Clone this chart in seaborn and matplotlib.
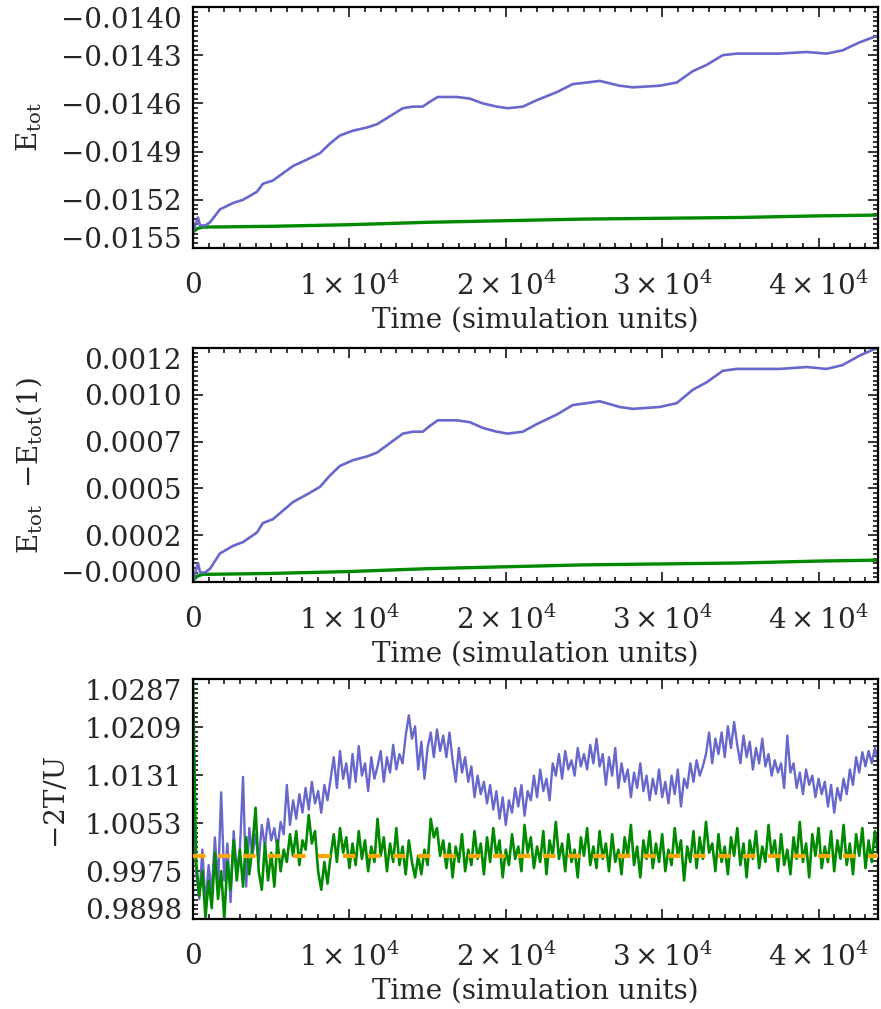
import numpy as np
import pandas as pd
import matplotlib
matplotlib.use("Agg")
import matplotlib.pyplot as plt
import seaborn as sns
from matplotlib.ticker import FixedLocator, FixedFormatter, MultipleLocator, AutoMinorLocator

# ---------------------------------------------------------------- data
# Total energy, live run (blue) and reference run (green)
e_time_blue = [0, 320, 450, 770, 1090, 1720, 2560, 3200, 4090, 4470, 5110, 6390,
               7280, 8120, 8760, 9390, 10220, 11120, 11760, 12590, 13420, 14060,
               14690, 15140, 15650, 16860, 17700, 18530, 19420, 20130, 21090,
               21980, 23260, 24280, 25170, 26010, 27280, 28120, 29840, 30930,
               31950, 32850, 33870, 34760, 35780, 37510, 39230, 40510, 41530,
               42620, 43450, 43800]
e_blue = [-0.01540, -0.01531, -0.01536, -0.01536, -0.01534, -0.01526, -0.01522,
          -0.01520, -0.01515, -0.01510, -0.01508, -0.01499, -0.01495, -0.01491,
          -0.01485, -0.01480, -0.01477, -0.01475, -0.01473, -0.01468, -0.01463,
          -0.01462, -0.01462, -0.01459, -0.01456, -0.01456, -0.01457, -0.01460,
          -0.01462, -0.01463, -0.01462, -0.01458, -0.01453, -0.01448, -0.01447,
          -0.01446, -0.01449, -0.01450, -0.01449, -0.01447, -0.01440, -0.01436,
          -0.01430, -0.01429, -0.01429, -0.01429, -0.01428, -0.01429, -0.01427,
          -0.01422, -0.01419, -0.01418]

e_time_green = [0, 250, 600, 5000, 10000, 15000, 20000, 25000, 30000, 35000, 40000, 43800]
e_green = [-0.015400, -0.015380, -0.015370, -0.015365, -0.015355, -0.015340,
           -0.015330, -0.015320, -0.015315, -0.015310, -0.015300, -0.015295]

# Virial ratio -2T/U sampled every 200 time units
virial_step = 200
virial_blue = [
    1.0100, 0.9975, 0.9930, 1.0010, 0.9920, 0.9985, 0.9940, 1.0030, 0.9950, 1.0103,
    0.9960, 1.0020, 0.9925, 1.0040, 0.9975, 1.0010, 1.0128, 0.9950, 1.0045, 1.0000,
    1.0035, 0.9990, 1.0050, 1.0015, 1.0060, 1.0025, 1.0045, 1.0010, 1.0055, 1.0035,
    1.0115, 1.0050, 1.0090, 1.0060, 1.0100, 1.0070, 1.0110, 1.0075, 1.0120, 1.0085,
    1.0105, 1.0070, 1.0115, 1.0090, 1.0125, 1.0160, 1.0110, 1.0170, 1.0125, 1.0150,
    1.0110, 1.0165, 1.0120, 1.0178, 1.0130, 1.0150, 1.0105, 1.0160, 1.0125, 1.0145,
    1.0170, 1.0120, 1.0160, 1.0135, 1.0180, 1.0140, 1.0165, 1.0150, 1.0195, 1.0228,
    1.0190, 1.0210, 1.0140, 1.0185, 1.0125, 1.0175, 1.0200, 1.0160, 1.0205, 1.0170,
    1.0195, 1.0160, 1.0200, 1.0155, 1.0120, 1.0175, 1.0135, 1.0160, 1.0120, 1.0145,
    1.0095, 1.0130, 1.0100, 1.0120, 1.0085, 1.0115, 1.0075, 1.0105, 1.0060, 1.0095,
    1.0050, 1.0090, 1.0070, 1.0110, 1.0080, 1.0115, 1.0065, 1.0105, 1.0090, 1.0130,
    1.0095, 1.0140, 1.0105, 1.0125, 1.0090, 1.0150, 1.0130, 1.0165, 1.0125, 1.0170,
    1.0140, 1.0155, 1.0130, 1.0175, 1.0145, 1.0165, 1.0140, 1.0180, 1.0150, 1.0190,
    1.0145, 1.0165, 1.0115, 1.0160, 1.0130, 1.0175, 1.0110, 1.0150, 1.0120, 1.0140,
    1.0095, 1.0135, 1.0110, 1.0150, 1.0105, 1.0130, 1.0090, 1.0125, 1.0100, 1.0140,
    1.0095, 1.0120, 1.0085, 1.0130, 1.0100, 1.0140, 1.0080, 1.0125, 1.0110, 1.0150,
    1.0120, 1.0155, 1.0130, 1.0145, 1.0165, 1.0200, 1.0150, 1.0190, 1.0165, 1.0200,
    1.0160, 1.0210, 1.0175, 1.0217, 1.0180, 1.0150, 1.0195, 1.0160, 1.0185, 1.0140,
    1.0175, 1.0150, 1.0190, 1.0145, 1.0165, 1.0130, 1.0155, 1.0135, 1.0150, 1.0110,
    1.0195, 1.0135, 1.0150, 1.0110, 1.0135, 1.0100, 1.0140, 1.0115, 1.0130, 1.0095,
    1.0125, 1.0100, 1.0120, 1.0080, 1.0115, 1.0070, 1.0110, 1.0090, 1.0125, 1.0100,
    1.0140, 1.0115, 1.0160, 1.0135, 1.0168, 1.0145, 1.0170, 1.0150, 1.0175, 1.0155,
]
virial_green = [
    1.0287, 0.9990, 0.9935, 0.9975, 0.9900, 0.9960, 0.9915, 1.0005, 0.9930, 0.9975,
    0.9898, 0.9990, 0.9945, 1.0025, 0.9960, 1.0010, 0.9950, 1.0030, 0.9970, 1.0015,
    1.0078, 0.9975, 0.9945, 1.0020, 0.9960, 1.0005, 0.9950, 1.0025, 0.9975, 1.0010,
    0.9990, 1.0035, 1.0000, 1.0040, 0.9985, 1.0025, 1.0010, 1.0066, 1.0020, 1.0040,
    0.9975, 0.9945, 0.9990, 0.9955, 1.0000, 1.0035, 0.9990, 1.0045, 1.0005, 1.0030,
    0.9980, 1.0020, 0.9985, 1.0040, 0.9995, 1.0025, 0.9975, 1.0015, 0.9990, 1.0060,
    1.0000, 1.0030, 0.9975, 1.0020, 0.9990, 1.0045, 0.9985, 1.0015, 0.9970, 1.0025,
    0.9990, 0.9965, 1.0000, 0.9970, 1.0010, 0.9985, 1.0060, 1.0030, 1.0045, 1.0000,
    1.0025, 0.9980, 1.0020, 0.9965, 1.0015, 0.9990, 1.0035, 0.9975, 1.0010, 0.9985,
    1.0040, 0.9995, 1.0020, 0.9970, 1.0030, 0.9990, 1.0045, 1.0000, 1.0025, 0.9965,
    1.0010, 0.9985, 1.0035, 0.9995, 1.0015, 0.9975, 1.0050, 1.0005, 1.0030, 0.9980,
    1.0015, 0.9990, 1.0040, 0.9970, 1.0025, 1.0000, 1.0055, 0.9995, 1.0020, 0.9975,
    1.0035, 0.9990, 1.0010, 0.9965, 1.0030, 1.0000, 1.0045, 0.9985, 1.0015, 0.9980,
    1.0040, 0.9995, 1.0020, 0.9975, 1.0035, 0.9990, 1.0010, 0.9970, 1.0030, 1.0000,
    1.0050, 0.9985, 1.0015, 0.9965, 1.0025, 0.9995, 1.0040, 0.9980, 1.0020, 0.9990,
    1.0035, 0.9975, 1.0010, 0.9985, 1.0045, 1.0000, 1.0025, 0.9960, 1.0015, 0.9990,
    1.0040, 0.9980, 1.0030, 0.9995, 1.0055, 1.0005, 1.0020, 0.9975, 1.0035, 0.9990,
    1.0015, 0.9970, 1.0030, 1.0000, 1.0045, 0.9985, 1.0020, 0.9965, 1.0025, 0.9995,
    1.0040, 0.9980, 1.0015, 0.9990, 1.0050, 1.0000, 1.0025, 0.9975, 1.0035, 0.9985,
    1.0010, 0.9970, 1.0030, 0.9995, 1.0055, 0.9990, 1.0020, 0.9965, 1.0035, 1.0000,
    1.0045, 0.9980, 1.0015, 0.9990, 1.0040, 0.9975, 1.0025, 0.9995, 1.0050, 0.9985,
    1.0020, 0.9970, 1.0035, 1.0000, 1.0045, 0.9980, 1.0025, 0.9990, 1.0040, 1.0005,
]
virial_equilibrium = 1.0

# Axis ranges (six evenly spaced labelled ticks per y axis)
x_max = 43800
x_major = [0, 10000, 20000, 30000, 40000]
x_labels = ["0", r"$1\times10^{4}$", r"$2\times10^{4}$", r"$3\times10^{4}$", r"$4\times10^{4}$"]
y_ranges = [(-0.0155, -0.0140), (-0.00001, 0.00122), (0.98975, 1.02868)]

# ---------------------------------------------------------------- style
BLUE = "#6767CC"
GREEN = "#008A00"
ORANGE = "#FFA500"

sns.set_style("ticks")
plt.rcParams["font.family"] = ["DejaVu Serif"]
plt.rcParams["mathtext.fontset"] = "dejavuserif"
plt.rcParams["font.size"] = 20
plt.rcParams["axes.unicode_minus"] = True

fig = plt.figure(figsize=(8.81, 10.09), dpi=100)
W, H = 881.0, 1009.0
boxes = [(7, 248), (348, 582), (679, 919)]
axes = []
for top, bot in boxes:
    ax = fig.add_axes([193 / W, 1 - bot / H, 685 / W, (bot - top) / H])
    axes.append(ax)

# Build data frames
df_e_blue = pd.DataFrame({"t": e_time_blue, "E": e_blue})
df_e_green = pd.DataFrame({"t": e_time_green, "E": e_green})
df_e_blue["dE"] = df_e_blue["E"] - df_e_blue["E"].iloc[0]
df_e_green["dE"] = df_e_green["E"] - df_e_green["E"].iloc[0]

n_vir = len(virial_blue)
t_vir = np.arange(n_vir) * virial_step
df_vir = pd.DataFrame({"t": t_vir, "blue": virial_blue, "green": virial_green})

# Panel 1: total energy
sns.lineplot(data=df_e_green, x="t", y="E", ax=axes[0], color=GREEN, lw=2.4,
             estimator=None, sort=False)
sns.lineplot(data=df_e_blue, x="t", y="E", ax=axes[0], color=BLUE, lw=1.9,
             estimator=None, sort=False)

# Panel 2: energy drift
sns.lineplot(data=df_e_green, x="t", y="dE", ax=axes[1], color=GREEN, lw=2.4,
             estimator=None, sort=False)
sns.lineplot(data=df_e_blue, x="t", y="dE", ax=axes[1], color=BLUE, lw=1.9,
             estimator=None, sort=False)

# Panel 3: virial ratio
sns.lineplot(data=df_vir, x="t", y="blue", ax=axes[2], color=BLUE, lw=1.7,
             estimator=None, sort=False)
sns.lineplot(data=df_vir, x="t", y="green", ax=axes[2], color=GREEN, lw=1.9,
             estimator=None, sort=False)
axes[2].axhline(virial_equilibrium, color=ORANGE, lw=3.0, ls=(0, (3.0, 3.0)), zorder=5)

ylabels = [r"$\mathrm{E_{tot}}$", r"$\mathrm{E_{tot}\ \ {-}E_{tot}(1)}$", "\u22122T/U"]

for ax, (y0, y1), yl in zip(axes, y_ranges, ylabels):
    ax.set_xlim(0, x_max)
    ax.set_ylim(y0, y1)
    yt = np.linspace(y0, y1, 6)
    ylab = [("%.4f" % v).replace("-", "\u2212") for v in yt]
    ax.yaxis.set_major_locator(FixedLocator(yt))
    ax.yaxis.set_major_formatter(FixedFormatter(ylab))
    ax.yaxis.set_minor_locator(AutoMinorLocator(10))
    ax.xaxis.set_major_locator(FixedLocator(x_major))
    ax.xaxis.set_major_formatter(FixedFormatter(x_labels))
    ax.xaxis.set_minor_locator(MultipleLocator(1000))
    ax.tick_params(which="both", direction="in", top=True, right=True,
                   color="black", width=1.1)
    ax.tick_params(which="major", length=7)
    ax.tick_params(which="minor", length=3.6)
    ax.tick_params(axis="x", which="major", pad=17)
    ax.tick_params(axis="y", which="major", pad=8)
    for s in ax.spines.values():
        s.set_linewidth(1.6)
        s.set_color("black")
    ax.set_xlabel("Time (simulation units)", labelpad=4)
    ax.set_ylabel(yl, labelpad=12)
    ax.grid(False)

# Keep the end labels of each y axis inside the axis span
fig.canvas.draw()
for ax in axes:
    labels = ax.yaxis.get_majorticklabels()
    labels[0].set_verticalalignment("baseline")
    labels[-1].set_verticalalignment("top")

fig.savefig("out.png", dpi=100)
